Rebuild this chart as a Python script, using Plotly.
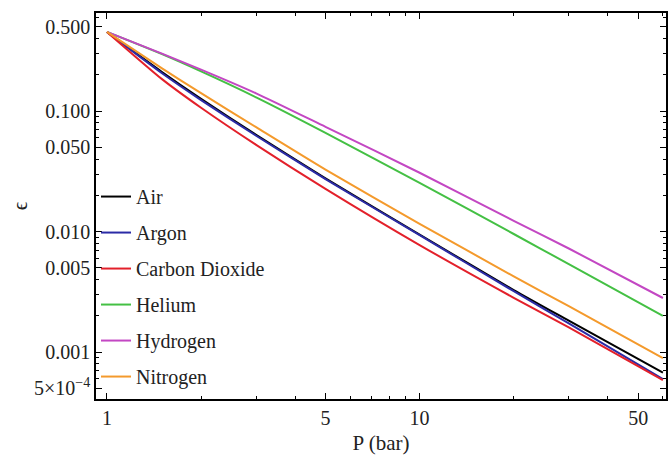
import plotly.graph_objects as go

# Data (pressure in bar, epsilon)
pressure = [1, 1.5, 2, 3, 5, 10, 20, 30, 60]
air = [0.455, 0.2113, 0.1265, 0.0637, 0.0277, 0.00944, 0.00327, 0.00182, 0.000673]
argon = [0.455, 0.2065, 0.1236, 0.0625, 0.0273, 0.00933, 0.00320, 0.00173, 0.000596]
carbon_dioxide = [0.455, 0.1845, 0.1067, 0.0525, 0.02265, 0.00773, 0.00282, 0.00160, 0.000585]
helium = [0.455, 0.2972, 0.2138, 0.1303, 0.0661, 0.0254, 0.00955, 0.00537, 0.00200]
hydrogen = [0.455, 0.3006, 0.2213, 0.1406, 0.0741, 0.0308, 0.01227, 0.00724, 0.00281]
nitrogen = [0.455, 0.2265, 0.1409, 0.0736, 0.0327, 0.01161, 0.00425, 0.00240, 0.000891]

names = ["Air", "Argon", "Carbon Dioxide", "Helium", "Hydrogen", "Nitrogen"]
series = [air, argon, carbon_dioxide, helium, hydrogen, nitrogen]
colors = ["#000000", "#2b2ba6", "#e3202a", "#44c044", "#c347c3", "#f49a2c"]

x_major = [1, 5, 10, 50]
x_major_text = ["1", "5", "10", "50"]
x_minor = [2, 3, 4, 6, 7, 8, 9, 20, 30, 40, 60]
y_major = [0.5, 0.1, 0.05, 0.01, 0.005, 0.001, 0.0005]
y_major_text = ["0.500", "0.100", "0.050", "0.010", "0.005", "0.001", "5×10<sup>−4</sup>"]
y_minor = [0.6, 0.4, 0.3, 0.2, 0.09, 0.08, 0.07, 0.06, 0.04, 0.03, 0.02,
           0.009, 0.008, 0.007, 0.006, 0.004, 0.003, 0.002,
           0.0009, 0.0008, 0.0007, 0.0006]

FONT = "Liberation Serif"
TXT = "#222222"

fig = go.Figure()
for name, ys, c in zip(names, series, colors):
    fig.add_trace(go.Scatter(
        x=pressure, y=ys, mode="lines", name=name, legendgroup=name,
        line=dict(color=c, width=2, shape="spline", smoothing=0.6),
    ))

axis_common = dict(
    type="log", showgrid=False, zeroline=False,
    showline=True, linecolor="black", linewidth=1.5, mirror="allticks",
    ticks="inside", ticklen=6, tickwidth=1.2, tickcolor="black",
    tickfont=dict(family=FONT, size=20, color=TXT),
)

fig.update_xaxes(
    **axis_common,
    range=[-0.035, 1.788],
    tickvals=x_major, ticktext=x_major_text,
    minor=dict(tickvals=x_minor, ticks="inside", ticklen=3.5, tickwidth=1, tickcolor="black"),
    title=dict(text="P (bar)", font=dict(family=FONT, size=21, color=TXT), standoff=8),
)
fig.update_yaxes(
    **axis_common,
    range=[-3.39, -0.185],
    tickvals=y_major, ticktext=y_major_text,
    minor=dict(tickvals=y_minor, ticks="inside", ticklen=3.5, tickwidth=1, tickcolor="black"),
    title=dict(text="ϵ", font=dict(family=FONT, size=21, color=TXT), standoff=1),
)

fig.update_layout(
    width=672, height=459,
    margin=dict(l=96, r=4, t=13, b=60),
    paper_bgcolor="white", plot_bgcolor="white",
    font=dict(family=FONT, color=TXT),
    showlegend=True,
    legend=dict(
        x=0.0, y=0.575, xanchor="left", yanchor="top",
        bgcolor="rgba(0,0,0,0)", traceorder="grouped", tracegroupgap=7,
        font=dict(family=FONT, size=20, color=TXT),
    ),
)

fig.write_html("out.html")
